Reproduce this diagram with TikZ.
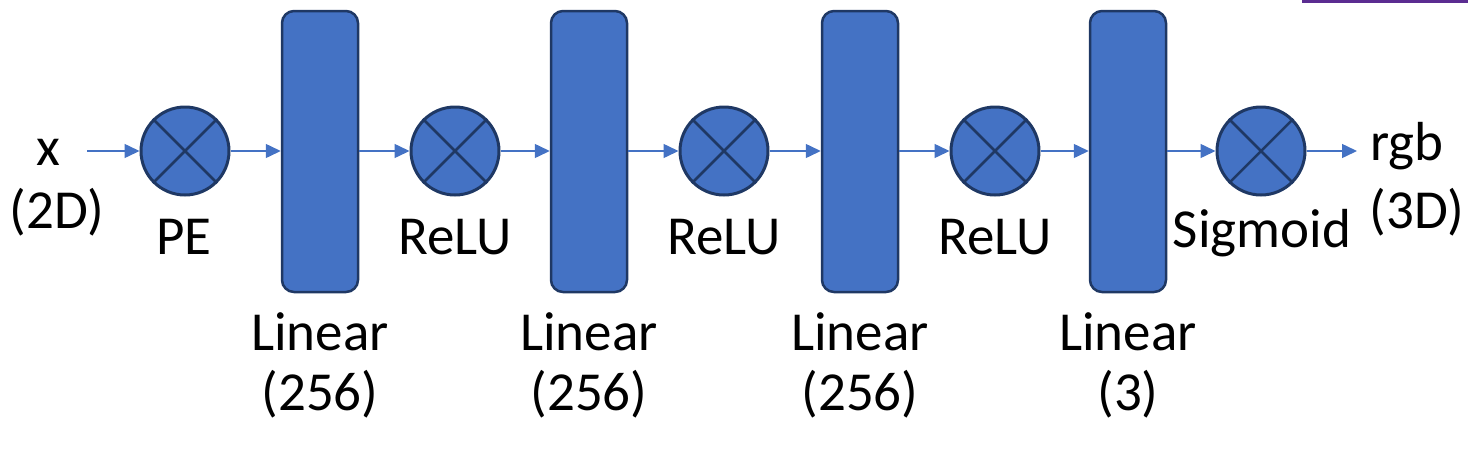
\documentclass[tikz,border=0pt]{standalone}
\usepackage{fontspec}
\setmainfont{Carlito}
\usetikzlibrary{arrows.meta}

\definecolor{blockblue}{HTML}{4472C4}
\definecolor{blockedge}{HTML}{1F3864}
\definecolor{barpurple}{HTML}{5B2C91}

\tikzset{
  layerbox/.style={draw=blockedge, line width=2.5pt, fill=blockblue, rounded corners=12pt,
    minimum width=76pt, minimum height=281pt, inner sep=0pt},
  actnode/.style={circle, draw=blockedge, line width=3pt, fill=blockblue,
    minimum size=88pt, inner sep=0pt},
  cross/.style={draw=blockedge, line width=2.5pt},
  flow/.style={draw=blockblue, line width=1.5pt, -{Triangle[length=15pt,width=14pt]}},
  lbl/.style={font=\fontsize{55}{60}\selectfont, anchor=base, inner sep=0pt},
}

\begin{document}
\begin{tikzpicture}[x=1pt, y=-1pt]
    \useasboundingbox (0,0) rectangle (1468,448);
    \fill[barpurple] (1302,0) rectangle (1468,3);

    % activations
    \node[actnode] (pe) at (185,151) {};
    \node[actnode] (relua) at (455,151) {};
    \node[actnode] (relub) at (724,151) {};
    \node[actnode] (reluc) at (995,151) {};
    \node[actnode] (sig) at (1261,151) {};
    \foreach \c in {pe,relua,relub,reluc,sig}
      \draw[cross] (\c.north west) -- (\c.south east) (\c.north east) -- (\c.south west);

    % linear layers
    \node[layerbox] (lina) at (320,151.5) {};
    \node[layerbox] (linb) at (589,151.5) {};
    \node[layerbox] (linc) at (860,151.5) {};
    \node[layerbox] (lind) at (1128,151.5) {};

    % labels
    \node[lbl] (xin) at (48,165) {x};
    \node[lbl] (xdim) at (57,228) {(2D)};
    \node[lbl] at (184,254) {PE};
    \node[lbl] at (455,254) {ReLU};
    \node[lbl] at (724,254) {ReLU};
    \node[lbl] at (995,254) {ReLU};
    \node[lbl] at (1262,247) {Sigmoid};
    \node[lbl] (rgb) at (1407,160) {rgb};
    \node[lbl] at (1417,228) {(3D)};
    \node[lbl] at (320,350) {Linear};
    \node[lbl] at (320,410) {(256)};
    \node[lbl] at (589,350) {Linear};
    \node[lbl] at (589,410) {(256)};
    \node[lbl] at (860,350) {Linear};
    \node[lbl] at (860,410) {(256)};
    \node[lbl] at (1128,350) {Linear};
    \node[lbl] at (1128,410) {(3)};

    % connectors
    \coordinate (xstart) at (87,151);
    \coordinate (rgbend) at (1357,151);
    \draw[flow] (xstart) -- (pe);
    \draw[flow] (pe) -- (pe -| lina.west);
    \draw[flow] (lina.east |- relua) -- (relua);
    \draw[flow] (relua) -- (relua -| linb.west);
    \draw[flow] (linb.east |- relub) -- (relub);
    \draw[flow] (relub) -- (relub -| linc.west);
    \draw[flow] (linc.east |- reluc) -- (reluc);
    \draw[flow] (reluc) -- (reluc -| lind.west);
    \draw[flow] (lind.east |- sig) -- (sig);
    \draw[flow] (sig) -- (rgbend);
  \end{tikzpicture}
\end{document}
